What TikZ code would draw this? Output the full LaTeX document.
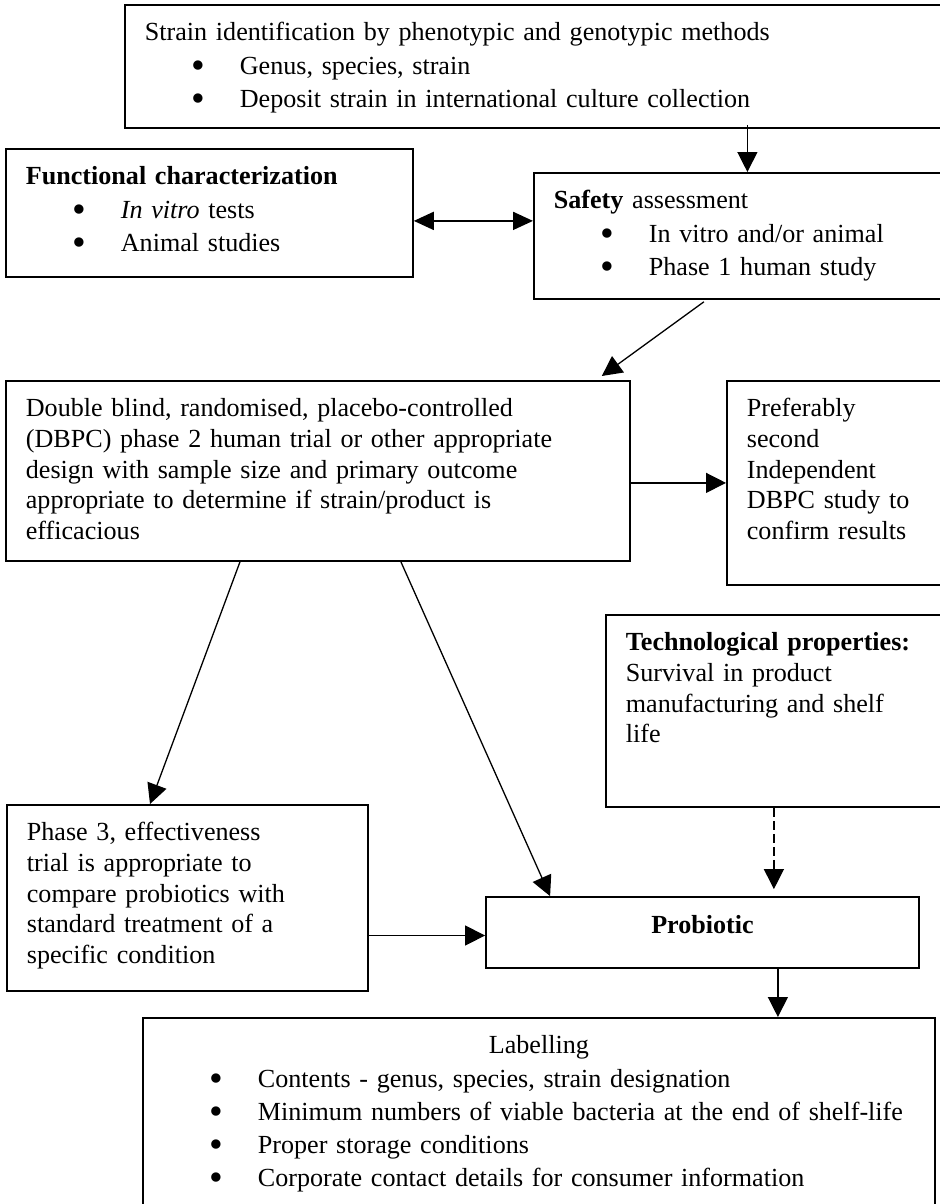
\documentclass[tikz,border=0pt]{standalone}
\usepackage{fontspec}
\setmainfont{Liberation Serif}
\usepackage{tikz}
\usetikzlibrary{arrows.meta}
\newcommand{\listbullet}{\hspace*{23.5pt}\makebox[24pt][l]{\raisebox{-2pt}[0pt][0pt]{\scalebox{1.5}{\textbullet}}}}
\tikzset{
  panel/.style={
      draw=black,
      line width=0.9pt,
      rectangle,
      anchor=north west,
      inner xsep=10pt,
      inner ysep=0pt,
      text height=18pt,
      align=left,
      font=\fontsize{13.05}{15.3}\selectfont
  },
  listpanel/.style={
      panel,
      font=\fontsize{13.05}{16.6}\selectfont
  },
  core/.style={
      draw=black,
      line width=0.9pt,
      rectangle,
      minimum width=216.5pt,
      minimum height=35.5pt,
      text depth=8pt,
      font=\fontsize{13.05}{15.3}\selectfont\bfseries
  },
  arrow/.style={-{Triangle[length=10pt,width=10pt]}, line width=0.65pt},
  twoway/.style={{Triangle[length=10pt,width=9pt]}-{Triangle[length=10pt,width=9pt]}, line width=0.9pt}
}

\begin{document}
\begin{tikzpicture}[x=0.5pt, y=-0.5pt]
      \useasboundingbox (0,0) rectangle (939,1204);
      % Boxes
      \node (strain) [listpanel, text width=398pt, text depth=43.5pt] at (124,4)
        {Strain identification by phenotypic and genotypic methods\\
         \listbullet Genus, species, strain\\
         \listbullet Deposit strain in international culture collection};
      \node (func) [listpanel, text width=183.5pt, text depth=46pt] at (5,148)
        {\textbf{Functional characterization}\\
         \listbullet \textit{In vitro} tests\\
         \listbullet Animal studies};
      \node (safety) [listpanel, text width=193.5pt, text depth=45pt] at (533,172)
        {\textbf{Safety} assessment\\
         \listbullet In vitro and/or animal\\
         \listbullet Phase 1 human study};
      \node (dbpc) [panel, text width=292pt, text depth=72pt] at (5,380)
        {Double blind, randomised, placebo-controlled\\
         (DBPC) phase 2 human trial or other appropriate\\
         design with sample size and primary outcome\\
         appropriate to determine if strain/product is\\
         efficacious};
      \node (second) [panel, text width=97pt, text depth=84pt] at (726,380)
        {Preferably\\ second\\ Independent\\ DBPC study to\\ confirm results};
      \node (tech) [panel, text width=157.5pt, text depth=78pt] at (605,614)
        {\textbf{Technological properties:}\\
         Survival in product\\
         manufacturing and shelf\\
         life};
      \node (phase3) [panel, text width=160.5pt, text depth=75pt] at (6,804)
        {Phase 3, effectiveness\\
         trial is appropriate to\\
         compare probiotics with\\
         standard treatment of a\\
         specific condition};
      \node (probiotic) [core] at (702.5,932.5) {Probiotic};
      \node (label) [listpanel, text width=376pt, text depth=88.5pt] at (142,1017)
        {\makebox[\linewidth]{Labelling}\\
         \listbullet Contents - genus, species, strain designation\\
         \listbullet \mbox{Minimum numbers of viable bacteria at the end of shelf-life}\\
         \listbullet Proper storage conditions\\
         \listbullet Corporate contact details for consumer information};

      % Connections
      \draw[arrow] ([yshift=2pt]strain.south -| safety.north) -- (safety.north);
      \draw[twoway] ([yshift=-4pt]func.east) -- ([yshift=-4pt]func.east -| safety.west);
      \draw[arrow] ([xshift=-21.75pt,yshift=-1pt]safety.south) -- ([xshift=-14.5pt,yshift=2pt]dbpc.north east);
      \draw[arrow] (dbpc.east |- second.west) -- (second.west);
      \draw[arrow] ([xshift=117.5pt]dbpc.south west) -- ([xshift=72pt]phase3.north west);
      \draw[arrow] ([xshift=41.5pt]dbpc.south) -- ([xshift=32.5pt]probiotic.north west);
      \draw[arrow] ([yshift=-1.5pt]phase3.east |- probiotic.west) -- ([yshift=-1.5pt]probiotic.west);
      \draw[arrow, dash pattern=on 4.5pt off 2pt] ([xshift=-4.75pt]tech.south) -- ([xshift=-4.75pt,yshift=3.5pt]tech.south |- probiotic.north);
      \draw[arrow] ([xshift=-71pt]probiotic.south east) -- ([xshift=-71pt]probiotic.south east |- label.north);
    \end{tikzpicture}
\end{document}
